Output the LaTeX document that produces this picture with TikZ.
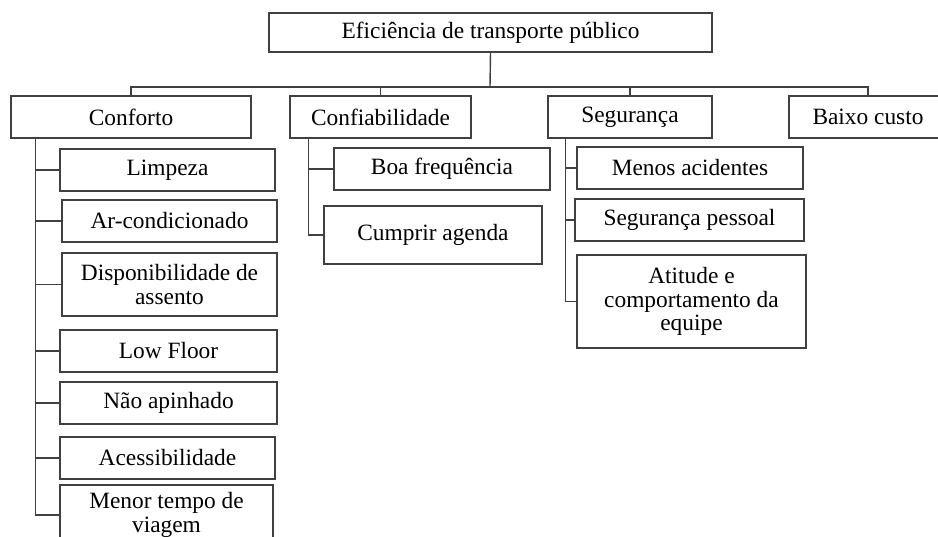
\documentclass[tikz,border=0pt]{standalone}
\usepackage{fontspec}
\setmainfont{Liberation Serif}
\tikzset{
 item/.style={draw=black!75, line width=0.8pt, fill=white, align=center, inner sep=0pt, minimum height=0.84cm, font=\fontsize{13.3}{13.4}\selectfont},
 link/.style={draw=black!75, line width=0.8pt}
}

\begin{document}
\begin{tikzpicture}[x=0.02cm, y=-0.02cm]
 \useasboundingbox (0,0) rectangle (938,537);

 \node[item, minimum width=8.86cm, minimum height=0.78cm] (EF) at (490.5,32.5) {Eficiência de transporte público};

 \node[item, minimum width=4.8cm] (CF) at (131,117) {Conforto};
 \node[item, minimum width=3.62cm] (CB) at (380.5,117) {Confiabilidade};
 \node[item, minimum width=3.28cm] (SG) at (630,117) {Segurança};
 \node[item, minimum width=3.16cm] (BC) at (868,117) {Baixo custo};

 \node[item, minimum width=4.3cm] (LI) at (167.5,170) {Limpeza};
 \node[item, minimum width=4.3cm] (AR) at (169.5,221) {Ar-condicionado};
 \node[item, minimum width=4.3cm, minimum height=1.26cm] (DA) at (169.5,284.5) {Disponibilidade de\\assento};
 \node[item, minimum width=4.34cm] (LF) at (168.5,351) {Low Floor};
 \node[item, minimum width=4.34cm] (NA) at (168.5,403) {Não apinhado};
 \node[item, minimum width=4.3cm] (AC) at (167.5,458) {Acessibilidade};
 \node[item, minimum width=4.26cm, minimum height=1.2cm] (MT) at (166.5,515) {Menor tempo de\\viagem};

 \node[item, minimum width=4.32cm] (BF) at (442,169) {Boa frequência};
 \node[item, minimum width=4.36cm, minimum height=1.16cm] (CA) at (433,235) {Cumprir agenda};

 \node[item, minimum width=4.52cm] (MA) at (690,168) {Menos acidentes};
 \node[item, minimum width=4.58cm] (SP) at (689.5,220) {Segurança pessoal};
 \node[item, minimum width=4.58cm, minimum height=1.86cm] (AT) at (691.5,301.5) {Atitude e\\comportamento da\\equipe};

 \coordinate (bus) at (490,87);
 \draw[link] (EF.south) -- (bus);
 \draw[link] (CF.north) |- (bus) -| (BC.north);
 \draw[link] (CB.north) -- (CB.north |- bus);
 \draw[link] (SG.north) -- (SG.north |- bus);

 \draw[link] ([xshift=0.5cm]CF.south west) |- (LI.west);
 \draw[link] ([xshift=0.5cm]CF.south west) |- (AR.west);
 \draw[link] ([xshift=0.5cm]CF.south west) |- (DA.west);
 \draw[link] ([xshift=0.5cm]CF.south west) |- (LF.west);
 \draw[link] ([xshift=0.5cm]CF.south west) |- (NA.west);
 \draw[link] ([xshift=0.5cm]CF.south west) |- (AC.west);
 \draw[link] ([xshift=0.5cm]CF.south west) |- (MT.west);

 \draw[link] ([xshift=0.38cm]CB.south west) |- (BF.west);
 \draw[link] ([xshift=0.38cm]CB.south west) |- (CA.west);

 \draw[link] ([xshift=0.36cm]SG.south west) |- (MA.west);
 \draw[link] ([xshift=0.36cm]SG.south west) |- (SP.west);
 \draw[link] ([xshift=0.36cm]SG.south west) |- (AT.west);
\end{tikzpicture}
\end{document}
